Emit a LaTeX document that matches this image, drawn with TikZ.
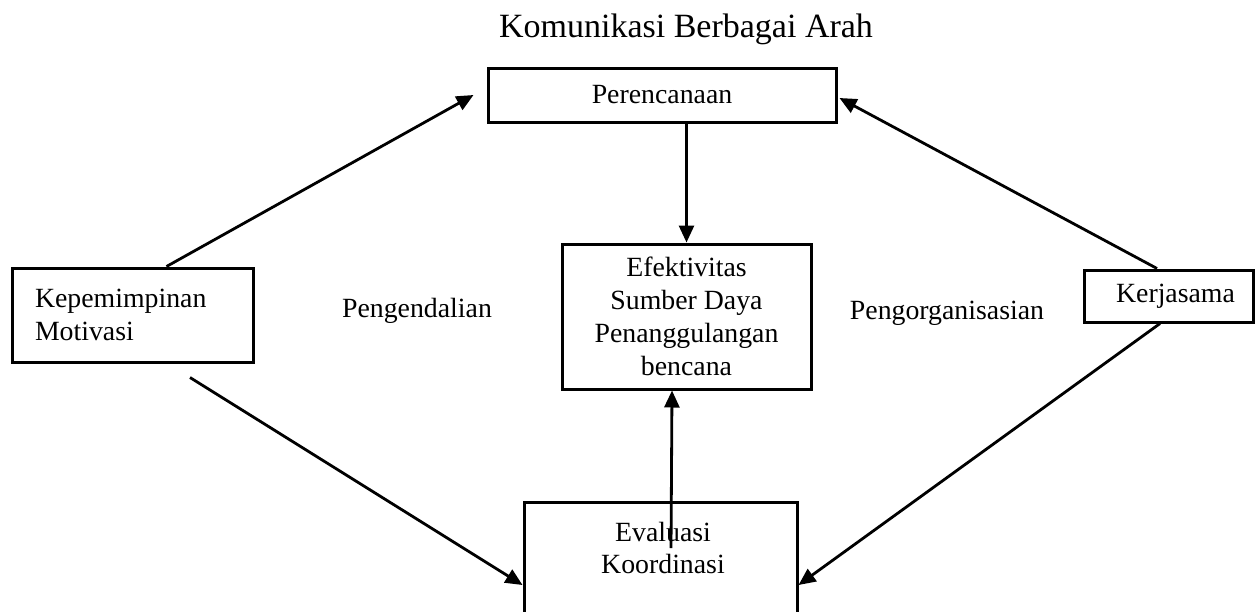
\documentclass[tikz,border=0pt]{standalone}
\usepackage{fontspec}
\setmainfont{Liberation Serif}
\usetikzlibrary{arrows.meta}
\begin{document}
\begin{tikzpicture}[x=0.5pt,y=-0.5pt,
  boxnode/.style={draw,line width=1.5pt,inner sep=0pt,font=\fontsize{13.9pt}{16.4pt}\selectfont,align=center},
  lbl/.style={inner sep=0pt,font=\fontsize{13.9pt}{16.4pt}\selectfont},
  conn/.style={line width=1.4pt,-{Triangle[length=8.5pt,width=7.5pt]}}]
\useasboundingbox (0,0) rectangle (1256,611);
\clip (0,0) rectangle (1256,611);
\node[lbl,font=\fontsize{17pt}{20pt}\selectfont,anchor=base] (title) at (686,37) {Komunikasi Berbagai Arah};
\node[boxnode,minimum width=174pt,minimum height=27pt] (pere) at (662,95) {Perencanaan};
\node[boxnode,minimum width=124.5pt,minimum height=72.5pt] (efek) at (686.5,316.5) {Efektivitas\\Sumber Daya\\Penanggulangan\\bencana};
\node[boxnode,text width=97.5pt,inner xsep=11.5pt,minimum height=47pt,align=left] (kep) at (132.5,315) {Kepemimpinan\\Motivasi};
\node[boxnode,minimum width=84.5pt,minimum height=26pt] (kerj) at (1168.5,296) {\hspace*{7pt}Kerjasama};
\node[draw,line width=1.5pt,inner sep=0pt,minimum width=136.5pt,minimum height=80pt,anchor=north] (evalbox) at (660.5,501) {};
\node[lbl,align=center] (evaltext) at (663,548) {Evaluasi\\Koordinasi};
\node[lbl] (peng) at (417,311) {Pengendalian};
\node[lbl] (org) at (947,313) {Pengorganisasian};
\draw[conn] ([xshift=17pt]kep.north) -- ([xshift=-6.5pt]pere.west);
\draw[conn] ([xshift=-5.75pt]kerj.north) -- ([xshift=1pt,yshift=-1.5pt]pere.east);
\draw[conn] (pere.south -| efek.north) -- (efek.north);
\draw[conn] ([xshift=5.25pt,yshift=-23.5pt]evalbox.north) -- ([xshift=-7.25pt]efek.south);
\draw[conn] ([xshift=28.75pt,yshift=-7pt]kep.south) -- ([yshift=-42pt]evalbox.north west);
\draw[conn] ([xshift=-4.25pt]kerj.south) -- ([yshift=-42pt]evalbox.north east);
\end{tikzpicture}
\end{document}
